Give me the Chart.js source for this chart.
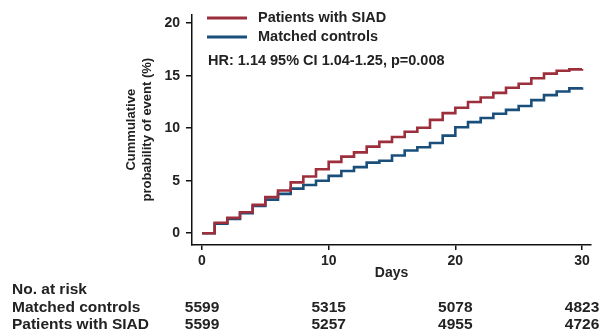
<!DOCTYPE html>
<html>
<head>
<meta charset="utf-8">
<script src="https://cdn.jsdelivr.net/npm/chart.js@4"></script>
<style>
  html, body { margin: 0; padding: 0; background: #fff; }
  #wrap { width: 613px; height: 333px; }
</style>
</head>
<body>
<div id="wrap"><canvas id="kmChart" width="613" height="333"></canvas></div>
<script>
// days 0..30, cumulative probability (%) from that day on
const days = [0,1,2,3,4,5,6,7,8,9,10,11,12,13,14,15,16,17,18,19,20,21,22,23,24,25,26,27,28,29,30];
const siad = [0, 1.0, 1.46, 2.0, 2.7, 3.44, 4.07, 4.84, 5.4, 6.1, 6.8, 7.3, 7.7, 8.25, 8.7, 9.17, 9.67, 10.05, 10.8, 11.44, 11.95, 12.5, 12.93, 13.37, 13.86, 14.23, 14.76, 15.2, 15.47, 15.6, 15.65];
const controls = [0, 0.9, 1.37, 1.9, 2.6, 3.2, 3.75, 4.25, 4.6, 5.0, 5.46, 5.93, 6.3, 6.72, 6.9, 7.4, 7.88, 8.19, 8.6, 9.3, 10.1, 10.58, 10.98, 11.38, 11.75, 12.12, 12.68, 13.15, 13.5, 13.8, 13.9];

const xTicks = [0, 10, 20, 30];
const yTicks = [0, 5, 10, 15, 20];

// number at risk table
const riskDays = [0, 10, 20, 30];
const riskControls = [5599, 5315, 5078, 4823];
const riskSiad = [5599, 5257, 4955, 4726];

const RED = "#9c2f3b";
const BLUE = "#1b4f7b";
const FONT = "'Liberation Sans', Arial, sans-serif";

function toPoints(ys) {
  return days.map((d, i) => ({ x: d, y: ys[i] }));
}

// legend, HR text and the at-risk table
const extras = {
  id: "extras",
  afterDraw(chart) {
    const ctx = chart.ctx;
    const xs = chart.scales.x;
    ctx.save();
    ctx.fillStyle = "#222";
    ctx.textBaseline = "middle";

    // legend
    ctx.lineWidth = 3;
    ctx.strokeStyle = RED;
    ctx.beginPath(); ctx.moveTo(207, 18); ctx.lineTo(247, 18); ctx.stroke();
    ctx.strokeStyle = BLUE;
    ctx.beginPath(); ctx.moveTo(207, 37); ctx.lineTo(247, 37); ctx.stroke();
    ctx.font = "bold 14.5px " + FONT;
    ctx.textAlign = "left";
    ctx.fillText("Patients with SIAD", 258, 18);
    ctx.fillText("Matched controls", 258, 37);
    ctx.fillText("HR: 1.14 95% CI 1.04-1.25, p=0.008", 208, 61);

    // no. at risk
    ctx.font = "bold 15.5px " + FONT;
    ctx.fillText("No. at risk", 12, 290);
    ctx.fillText("Matched controls", 12, 308);
    ctx.fillText("Patients with SIAD", 12, 325);
    ctx.textAlign = "center";
    riskDays.forEach((d, i) => {
      const px = xs.getPixelForValue(d);
      ctx.fillText(String(riskControls[i]), px, 308);
      ctx.fillText(String(riskSiad[i]), px, 325);
    });
    ctx.restore();
  }
};

new Chart(document.getElementById("kmChart").getContext("2d"), {
  type: "line",
  data: {
    datasets: [
      {
        label: "Patients with SIAD",
        data: toPoints(siad),
        borderColor: RED,
        borderWidth: 2.6,
        pointRadius: 0,
        stepped: "before",
        fill: false
      },
      {
        label: "Matched controls",
        data: toPoints(controls),
        borderColor: BLUE,
        borderWidth: 2.6,
        pointRadius: 0,
        stepped: "before",
        fill: false
      }
    ]
  },
  options: {
    responsive: false,
    animation: false,
    layout: { padding: { left: 120, top: 9, right: 22, bottom: 47 } },
    plugins: {
      legend: { display: false },
      tooltip: { enabled: false }
    },
    scales: {
      x: {
        type: "linear",
        min: -0.79,
        max: 30.71,
        afterBuildTicks: (s) => { s.ticks = xTicks.map(v => ({ value: v })); },
        afterFit: (s) => { s.height = 41; },
        border: { display: true, color: "#111", width: 1.5 },
        grid: { display: true, drawOnChartArea: false, drawTicks: true, tickLength: 5, color: "#111", lineWidth: 1.5 },
        ticks: { color: "#222", padding: 3, font: { family: FONT, size: 14, weight: "bold" } },
        title: { display: true, text: "Days", color: "#222", font: { family: FONT, size: 14, weight: "bold" } }
      },
      y: {
        min: -1.12,
        max: 20.84,
        afterBuildTicks: (s) => { s.ticks = yTicks.map(v => ({ value: v })); },
        afterFit: (s) => { s.width = 72; },
        border: { display: true, color: "#111", width: 1.5 },
        grid: { display: true, drawOnChartArea: false, drawTicks: true, tickLength: 6, color: "#111", lineWidth: 1.5 },
        ticks: { color: "#222", padding: 6, font: { family: FONT, size: 14, weight: "bold" } },
        title: {
          display: true,
          text: ["Cummulative", "probability of event (%)"],
          color: "#222",
          font: { family: FONT, size: 13, weight: "bold" }
        }
      }
    }
  },
  plugins: [extras]
});
</script>
</body>
</html>
